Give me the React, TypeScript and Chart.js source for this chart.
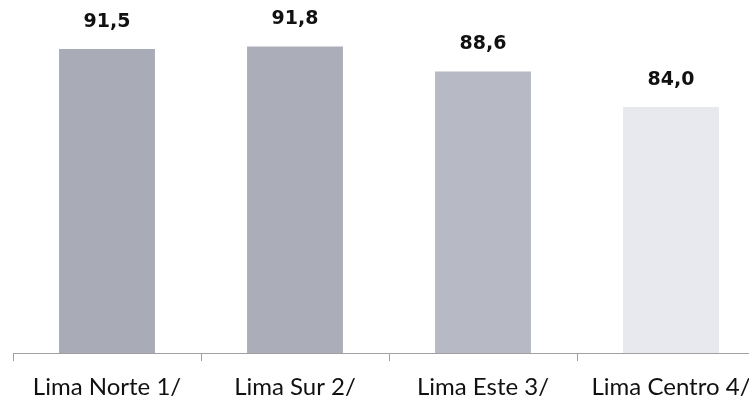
import React, { useEffect, useRef } from "react";
import { Chart, registerables } from "chart.js";

Chart.register(...registerables);

const categories = ["Lima Norte 1/", "Lima Sur 2/", "Lima Este 3/", "Lima Centro 4/"];
const values = [91.5, 91.8, 88.6, 84.0];
const barColors = ["#a9abb7", "#abadb9", "#b7b9c5", "#e8e9ef"];
const yMin = 52.3;
const yMax = 97.8;

const valueLabels = {
  id: "valueLabels",
  afterDatasetsDraw(chart: any) {
    const ctx = chart.ctx;
    const meta = chart.getDatasetMeta(0);
    ctx.save();
    ctx.font = "bold 19px 'DejaVu Sans'";
    ctx.fillStyle = "#111";
    ctx.textAlign = "center";
    ctx.textBaseline = "middle";
    meta.data.forEach((bar: any, i: number) => {
      const v = values[i].toFixed(1).replace(".", ",");
      ctx.fillText(v, bar.x, bar.y - 27);
    });
    ctx.restore();
  },
};

export default function App() {
  const ref = useRef<HTMLCanvasElement>(null);
  useEffect(() => {
    document.body.style.margin = "0";
    const chart = new Chart(ref.current!, {
      type: "bar",
      data: {
        labels: categories,
        datasets: [
          {
            data: values,
            backgroundColor: barColors,
            categoryPercentage: 1,
            barPercentage: 0.51,
          },
        ],
      },
      options: {
        responsive: false,
        animation: false,
        layout: { padding: { left: 13, right: 15, top: 0, bottom: 0 } },
        plugins: { legend: { display: false }, tooltip: { enabled: false } },
        scales: {
          y: { display: false, min: yMin, max: yMax },
          x: {
            afterFit: (s: any) => {
              s.height = 48;
            },
            border: { display: true, color: "#a0a0a0", width: 1 },
            grid: {
              offset: true,
              drawOnChartArea: false,
              drawTicks: true,
              tickLength: 8,
              color: "#a0a0a0",
            },
            ticks: {
              color: "#111",
              padding: 12,
              font: { family: "Lato", size: 24 },
              maxRotation: 0,
              autoSkip: false,
            },
          },
        },
      },
      plugins: [valueLabels],
    });
    return () => chart.destroy();
  }, []);
  return (
    <div style={{ position: "fixed", left: 0, top: 0, width: 749, height: 401, overflow: "hidden", background: "#fff" }}>
      <canvas ref={ref} width={780} height={401} style={{ display: "block" }} />
    </div>
  );
}
